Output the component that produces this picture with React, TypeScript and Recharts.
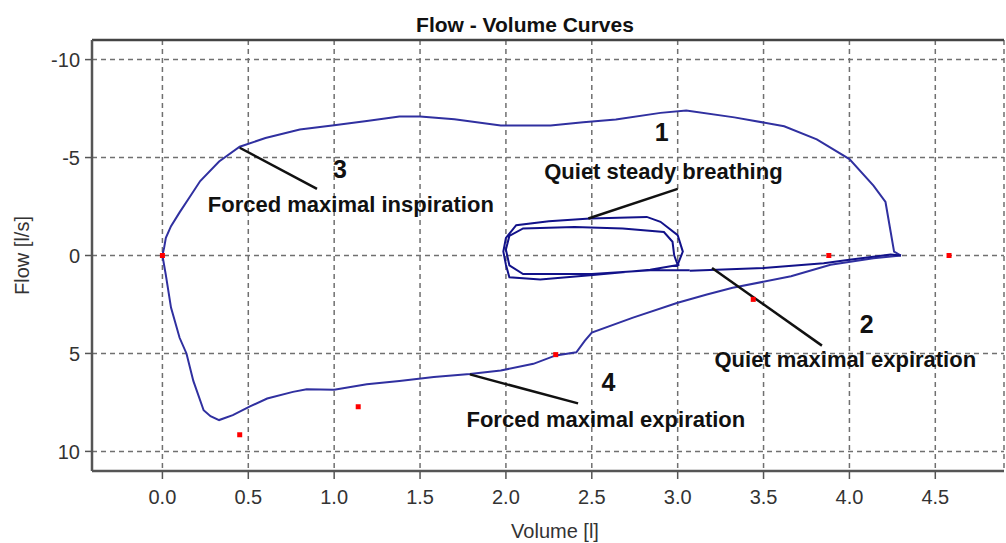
import React from 'react';
import { ComposedChart, Line, Scatter, XAxis, YAxis, CartesianGrid, ReferenceLine } from 'recharts';

const volumeTicks = [0, 0.5, 1, 1.5, 2, 2.5, 3, 3.5, 4, 4.5];
const flowTicks = [-10, -5, 0, 5, 10];

const forcedInspiration = [
  { v: 0, f: 0 }, { v: 0.01, f: -0.4 }, { v: 0.02, f: -0.9 }, { v: 0.05, f: -1.5 },
  { v: 0.1, f: -2.2 }, { v: 0.16, f: -3.0 }, { v: 0.22, f: -3.8 }, { v: 0.33, f: -4.8 },
  { v: 0.45, f: -5.55 }, { v: 0.6, f: -6.0 }, { v: 0.8, f: -6.43 }, { v: 1.0, f: -6.65 },
  { v: 1.19, f: -6.86 }, { v: 1.38, f: -7.1 }, { v: 1.5, f: -7.1 }, { v: 1.7, f: -6.95 },
  { v: 1.97, f: -6.64 }, { v: 2.26, f: -6.64 }, { v: 2.45, f: -6.8 }, { v: 2.64, f: -6.94 },
  { v: 2.9, f: -7.28 }, { v: 3.05, f: -7.4 }, { v: 3.33, f: -7.05 }, { v: 3.62, f: -6.6 },
  { v: 3.81, f: -5.93 }, { v: 4.0, f: -4.92 }, { v: 4.14, f: -3.57 }, { v: 4.21, f: -2.73 },
  { v: 4.24, f: -1.21 }, { v: 4.26, f: -0.2 }, { v: 4.3, f: 0 },
];

const forcedExpiration = [
  { v: 4.3, f: 0 }, { v: 4.14, f: 0.14 }, { v: 3.89, f: 0.47 }, { v: 3.66, f: 1.06 },
  { v: 3.32, f: 1.65 }, { v: 3.17, f: 1.99 }, { v: 3.0, f: 2.41 }, { v: 2.74, f: 3.17 },
  { v: 2.5, f: 3.93 }, { v: 2.46, f: 4.35 }, { v: 2.41, f: 4.94 }, { v: 2.29, f: 5.1 },
  { v: 2.16, f: 5.53 }, { v: 1.97, f: 5.87 }, { v: 1.79, f: 6.05 }, { v: 1.58, f: 6.2 },
  { v: 1.38, f: 6.4 }, { v: 1.19, f: 6.57 }, { v: 1.0, f: 6.85 }, { v: 0.84, f: 6.83 },
  { v: 0.76, f: 6.96 }, { v: 0.61, f: 7.3 }, { v: 0.51, f: 7.7 }, { v: 0.41, f: 8.15 },
  { v: 0.33, f: 8.4 }, { v: 0.28, f: 8.2 }, { v: 0.24, f: 7.9 }, { v: 0.18, f: 6.4 },
  { v: 0.14, f: 5.0 }, { v: 0.1, f: 4.2 }, { v: 0.05, f: 2.66 }, { v: 0.02, f: 1.0 },
  { v: 0, f: 0 },
];

const quietBreathing = [
  { v: 3.01, f: 0.47 }, { v: 2.84, f: 0.73 }, { v: 2.49, f: 1.01 }, { v: 2.2, f: 1.23 },
  { v: 2.02, f: 1.11 }, { v: 2.0, f: 0.47 }, { v: 1.985, f: -0.2 }, { v: 2.0, f: -0.9 },
  { v: 2.06, f: -1.55 }, { v: 2.25, f: -1.75 }, { v: 2.49, f: -1.89 }, { v: 2.82, f: -1.97 },
  { v: 2.9, f: -1.72 }, { v: 3.0, f: -1.04 }, { v: 3.03, f: -0.2 }, { v: 3.0, f: 0.47 },
  { v: 2.98, f: 0.0 }, { v: 2.97, f: -0.7 }, { v: 2.92, f: -1.2 }, { v: 2.68, f: -1.38 },
  { v: 2.4, f: -1.45 }, { v: 2.1, f: -1.38 }, { v: 2.02, f: -1.0 }, { v: 2.0, f: -0.3 },
  { v: 2.02, f: 0.5 }, { v: 2.1, f: 0.95 }, { v: 2.5, f: 0.95 }, { v: 2.84, f: 0.75 },
  { v: 3.07, f: 0.75 },
];

const quietExpiration = [
  { v: 3.07, f: 0.78 }, { v: 3.5, f: 0.64 }, { v: 3.85, f: 0.39 }, { v: 4.0, f: 0.22 },
  { v: 4.24, f: -0.05 }, { v: 4.3, f: 0 },
];

const markers = [
  { v: 0, f: 0 }, { v: 0.45, f: 9.15 }, { v: 1.14, f: 7.72 }, { v: 2.29, f: 5.06 },
  { v: 3.44, f: 2.24 }, { v: 3.88, f: 0 }, { v: 4.58, f: 0 },
];

const pointer1 = [{ v: 3.0, f: -3.4 }, { v: 2.48, f: -1.89 }];
const pointer2 = [{ v: 3.2, f: 0.64 }, { v: 3.84, f: 4.6 }];
const pointer3 = [{ v: 0.45, f: -5.5 }, { v: 0.9, f: -3.4 }];
const pointer4 = [{ v: 1.79, f: 6.07 }, { v: 2.42, f: 7.55 }];

const numberLabels = [
  { v: 2.907, f: -6.3, text: '1' },
  { v: 4.1, f: 3.5, text: '2' },
  { v: 1.033, f: -4.41, text: '3' },
  { v: 2.597, f: 6.46, text: '4' },
];

const captionLabels = [
  { v: 2.917, f: -4.3, text: 'Quiet steady breathing' },
  { v: 3.976, f: 5.3, text: 'Quiet maximal expiration' },
  { v: 1.097, f: -2.62, text: 'Forced maximal inspiration' },
  { v: 2.582, f: 8.38, text: 'Forced maximal expiration' },
];

const FONT = '"Liberation Sans", Arial, sans-serif';

const MarkerShape = (p: any) => (
  <rect x={p.cx - 2.5} y={p.cy - 2.5} width={5} height={5} fill="#ff0000" />
);

const NumberShape = (p: any) => (
  <text x={p.cx} y={p.cy} textAnchor="middle" dominantBaseline="central"
    fontFamily={FONT} fontWeight="bold" fontSize={25} fill="#111">
    {p.payload.text}
  </text>
);

const CaptionShape = (p: any) => (
  <text x={p.cx} y={p.cy} textAnchor="middle" dominantBaseline="central"
    fontFamily={FONT} fontWeight="bold" fontSize={22} fill="#111">
    {p.payload.text}
  </text>
);

const fmtV = (v: number) => v.toFixed(1);
const fmtF = (v: number) => String(v);

export default function App() {
  const axisStroke = '#555';
  const tickStyle = { fill: '#333', fontSize: 20, fontFamily: FONT };
  return (
    <div style={{ position: 'absolute', left: 0, top: 0, width: 1006, height: 543, background: '#fff' }}>
      <div style={{ position: 'absolute', left: 0, top: 13, width: 1050, textAlign: 'center', fontFamily: FONT, fontWeight: 'bold', fontSize: 21, color: '#111' }}>
        Flow - Volume Curves
      </div>
      <ComposedChart width={1006} height={543} margin={{ top: 40, right: 2, left: 0, bottom: 0 }}>
        <CartesianGrid strokeDasharray="5 4" stroke="#707070" strokeWidth={1.5} />
        <XAxis
          type="number"
          dataKey="v"
          domain={[-0.41, 4.9]}
          ticks={volumeTicks}
          allowDataOverflow
          tickFormatter={fmtV}
          height={72}
          tickSize={8}
          tickMargin={11}
          stroke={axisStroke}
          axisLine={{ stroke: axisStroke, strokeWidth: 2.5 }}
          tickLine={{ stroke: axisStroke, strokeWidth: 1.5 }}
          tick={tickStyle}
          label={{ value: 'Volume [l]', position: 'insideBottom', offset: 5, dx: 7, fill: '#333', fontSize: 20, fontFamily: FONT }}
        />
        <YAxis
          type="number"
          dataKey="f"
          domain={[-11, 11]}
          reversed
          ticks={flowTicks}
          allowDataOverflow
          tickFormatter={fmtF}
          width={92}
          tickSize={7}
          tickMargin={5}
          stroke={axisStroke}
          axisLine={{ stroke: axisStroke, strokeWidth: 2.5 }}
          tickLine={{ stroke: axisStroke, strokeWidth: 1.5 }}
          tick={tickStyle}
          label={{ value: 'Flow [l/s]', angle: -90, position: 'insideLeft', offset: 22, fill: '#333', fontSize: 20, fontFamily: FONT, style: { textAnchor: 'middle' } }}
        />
        <ReferenceLine y={-11} stroke="#444" strokeWidth={2.5} />
        <Line data={forcedInspiration} dataKey="f" type="linear" dot={false} stroke="#3030a0" strokeWidth={2} isAnimationActive={false} />
        <Line data={forcedExpiration} dataKey="f" type="linear" dot={false} stroke="#3030a0" strokeWidth={2} isAnimationActive={false} />
        <Line data={quietBreathing} dataKey="f" type="linear" dot={false} stroke="#12128a" strokeWidth={2} isAnimationActive={false} />
        <Line data={quietExpiration} dataKey="f" type="linear" dot={false} stroke="#12128a" strokeWidth={2} isAnimationActive={false} />
        <Line data={pointer1} dataKey="f" type="linear" dot={false} stroke="#111" strokeWidth={2.5} isAnimationActive={false} />
        <Line data={pointer2} dataKey="f" type="linear" dot={false} stroke="#111" strokeWidth={2.5} isAnimationActive={false} />
        <Line data={pointer3} dataKey="f" type="linear" dot={false} stroke="#111" strokeWidth={2.5} isAnimationActive={false} />
        <Line data={pointer4} dataKey="f" type="linear" dot={false} stroke="#111" strokeWidth={2.5} isAnimationActive={false} />
        <Scatter data={markers} dataKey="f" shape={MarkerShape} isAnimationActive={false} />
        <Scatter data={numberLabels} dataKey="f" shape={NumberShape} isAnimationActive={false} />
        <Scatter data={captionLabels} dataKey="f" shape={CaptionShape} isAnimationActive={false} />
      </ComposedChart>
    </div>
  );
}
